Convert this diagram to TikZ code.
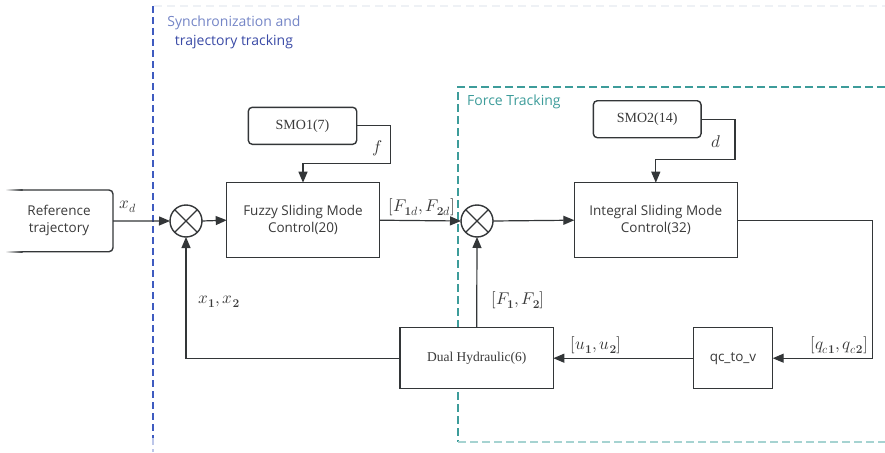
\documentclass[tikz,border=0pt]{standalone}
\usepackage{unicode-math}
\setmathfont{Latin Modern Math}
\setsansfont{Open Sans}
\newfontfamily\timesf{Liberation Serif}
\usetikzlibrary{arrows.meta}
\definecolor{ln}{HTML}{333638}
\definecolor{txt}{HTML}{3a3a3a}
\definecolor{bluedash}{HTML}{3f5bc0}
\definecolor{bluelight}{HTML}{7485c6}
\definecolor{bluedark}{HTML}{3a4aa6}
\definecolor{tealc}{HTML}{3d9c9a}
\definecolor{teallight}{HTML}{a6d3d1}
\definecolor{faint}{HTML}{eef1f5}
\tikzset{
  boxline/.style={draw=ln, line width=1.4pt},
  blockbox/.style={boxline, fill=white, rectangle, inner sep=0pt, outer sep=0pt, align=center,
    text=txt, font=\sffamily\fontsize{13.5}{17}\selectfont},
  obsbox/.style={boxline, fill=white, rectangle, rounded corners=4pt, inner sep=0pt, outer sep=0pt,
    text=txt, font=\timesf\fontsize{14}{16}\selectfont},
  sumnode/.style={boxline, fill=white, circle, minimum size=32pt, inner sep=0pt, outer sep=0pt},
  arr/.style={draw=ln, line width=1.2pt, -{Triangle[length=11pt,width=9pt]}},
  mlabel/.style={inner sep=0pt, text=txt, font=\fontsize{17}{19}\selectfont},
}
\begin{document}
\begin{tikzpicture}[x=1pt,y=-1pt]
\useasboundingbox (0,0) rectangle (885,452);
% region frames
\draw[faint, line width=1.2pt, dash pattern=on 8pt off 5pt] (154,6) -- (885,6);
\draw[bluedash, line width=2pt, dash pattern=on 7pt off 4pt] (153,6) -- (153,438);
\draw[bluedash!35, line width=2pt, dash pattern=on 7pt off 4pt] (153,438) -- (153,452);
\draw[tealc, line width=2pt, dash pattern=on 8pt off 4pt] (885,87) -- (458,87) -- (458,442);
\draw[teallight, line width=2pt, dash pattern=on 8pt off 4pt] (458,442) -- (885,442);
\node[align=center, inner sep=0pt, font=\sffamily\fontsize{14}{18.4}\selectfont] (title1) at (234,32.5)
  {\textcolor{bluelight}{Synchronization and}\\\textcolor{bluedark}{trajectory tracking}};
\node[anchor=west, inner sep=0pt, text=tealc, font=\sffamily\fontsize{14}{16}\selectfont] (title2) at (467,102.3) {Force Tracking};

% reference trajectory box (left side fading)
\node[inner sep=0pt, minimum width=108pt, minimum height=61.7pt, align=center, text=txt,
  font=\sffamily\fontsize{13.5}{17}\selectfont] (ref) at (59,220.9) {Reference\\trajectory};
\draw[boxline, rounded corners=4pt] (22,190) -- (113,190) -- (113,251.7) -- (22,251.7);
\shade[left color=white, right color=ln] (5,189.3) rectangle (22.5,190.7);
\shade[left color=white, right color=ln] (5,251) rectangle (22.5,252.4);

% blocks
\node[sumnode] (s1) at (186,221) {};
\draw[ln, line width=1.3pt] (s1.north west) -- (s1.south east) (s1.north east) -- (s1.south west);
\node[sumnode] (s2) at (477,221) {};
\draw[ln, line width=1.3pt] (s2.north west) -- (s2.south east) (s2.north east) -- (s2.south west);

\node[blockbox, minimum width=152.6pt, minimum height=75pt] (fz) at (303,220.2) {Fuzzy Sliding Mode\\Control(20)};
\node[blockbox, minimum width=163pt, minimum height=75pt] (is) at (655.8,220.2) {Integral Sliding Mode\\Control(32)};
\node[obsbox, minimum width=108.4pt, minimum height=37pt] (smo1) at (302.5,125.8) {SMO1(7)};
\node[obsbox, minimum width=107.7pt, minimum height=37pt] (smo2) at (647.2,119.2) {SMO2(14)};
\node[obsbox, rounded corners=0pt, font=\timesf\fontsize{13.5}{16}\selectfont, minimum width=153.3pt, minimum height=61pt] (dh) at (476.7,358.2) {Dual Hydraulic(6)};
\node[blockbox, minimum width=79.4pt, minimum height=61pt] (qc) at (733,358.2) {qc\_to\_v};

% connectors
\coordinate (f1) at (390.7,163.3);
\coordinate (d1) at (735,159.3);
\coordinate (qR) at (872.3,358.2);
\draw[arr] (ref.east) -- (s1.west);
\draw[arr] (s1.east) -- (fz.west);
\draw[arr] (fz.east) -- (s2.west);
\draw[arr] (s2.east) -- (is.west);
\draw[arr] (is.east) -| (qR) -- (qc.east);
\draw[arr] (qc.west) -- (dh.east);
\draw[arr] (dh.west) -| (s1.south);
\draw[arr] (dh.north) -- (s2.south);
\draw[arr] (smo1.east) -| (f1) -| (fz.north);
\draw[arr] (smo2.east) -| (d1) -| (is.north);

% labels
\node[mlabel] (lxd) at (128,207) {$x_d$};
\node[mlabel] (lF1d) at (422,207) {$[F_{\mathbf{1}d},F_{\mathbf{2}d}]$};
\node[mlabel] (lf) at (377,148) {$f$};
\node[mlabel] (ld) at (716,141.5) {$d$};
\node[mlabel] (lx12) at (219,302) {$x_{\mathbf{1}},x_{\mathbf{2}}$};
\node[mlabel] (lF12) at (518,300) {$[F_{\mathbf{1}},F_{\mathbf{2}}]$};
\node[mlabel] (lu12) at (596,345) {$[u_{\mathbf{1}},u_{\mathbf{2}}]$};
\node[mlabel] (lqc) at (839,345.5) {$[q_{c\mathbf{1}},q_{c\mathbf{2}}]$};
\end{tikzpicture}
\end{document}
